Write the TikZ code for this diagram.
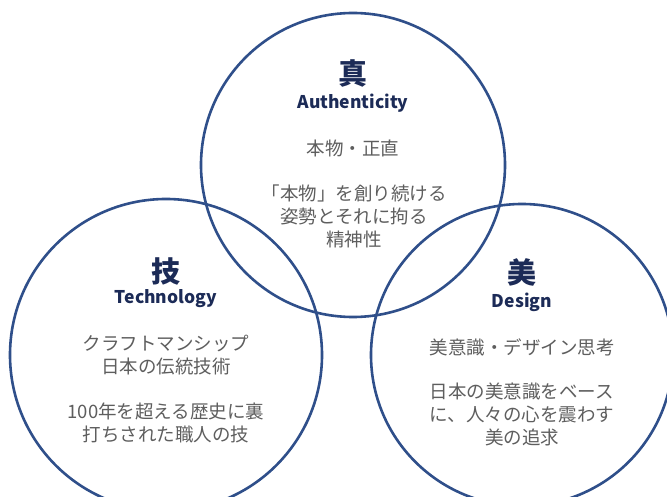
\documentclass[tikz,border=0pt]{standalone}
\usepackage{fontspec}
\usepackage{tikz}
\newfontfamily\jpfont{Noto Sans CJK JP}
\definecolor{ringblue}{HTML}{2F4F8A}
\definecolor{headnavy}{HTML}{1C2B57}
\definecolor{bodygray}{HTML}{5E5E5E}
\tikzset{
  ring/.style={line width=2.6pt,draw=ringblue},
  kanji/.style={font=\jpfont\bfseries\fontsize{29}{30}\selectfont,text=headnavy,inner sep=0pt},
  engname/.style={font=\jpfont\bfseries\fontsize{17.5}{20}\selectfont,text=headnavy,inner sep=0pt},
  body/.style={font=\jpfont\fontsize{18.5}{23}\selectfont,text=bodygray,align=center,inner sep=0pt}
}

\begin{document}
\begin{tikzpicture}[x=1pt,y=-1pt]
        % page size and background
        \fill[white] (0,0) rectangle (667,497);
        \useasboundingbox (0,0) rectangle (667,497);
        % draw the three circles
        \begin{scope}
          \clip (0,0) rectangle (667,497);
          \draw[ring] (353,165) circle(152);
          \draw[ring] (166,355) circle(156);
          \draw[ring] (522,355) circle(151);
        \end{scope}
        % top circle
        \node[kanji] (shin) at (353,73) {真};
        \node[engname] (authenticity) at (353,103) {Authenticity};
        \node[body] (shinA) at (353,148) {本物・正直};
        \node[body] (shinB) at (354,216) {「本物」を創り続ける\\姿勢とそれに拘る\\精神性};
        % left circle
        \node[kanji] (gi) at (166,271) {技};
        \node[engname] (technology) at (166,299) {Technology};
        \node[body] (giA) at (166,355) {クラフトマンシップ\\日本の伝統技術};
        \node[body] (giB) at (166,423) {100年を超える歴史に裏\\打ちされた職人の技};
        % right circle
        \node[kanji] (bi) at (522,272) {美};
        \node[engname] (design) at (522,302) {Design};
        \node[body] (biA) at (522,347) {美意識・デザイン思考};
        \node[body] (biB) at (522,414) {日本の美意識をベース\\に、人々の心を震わす\\美の追求};
\end{tikzpicture}
\end{document}
